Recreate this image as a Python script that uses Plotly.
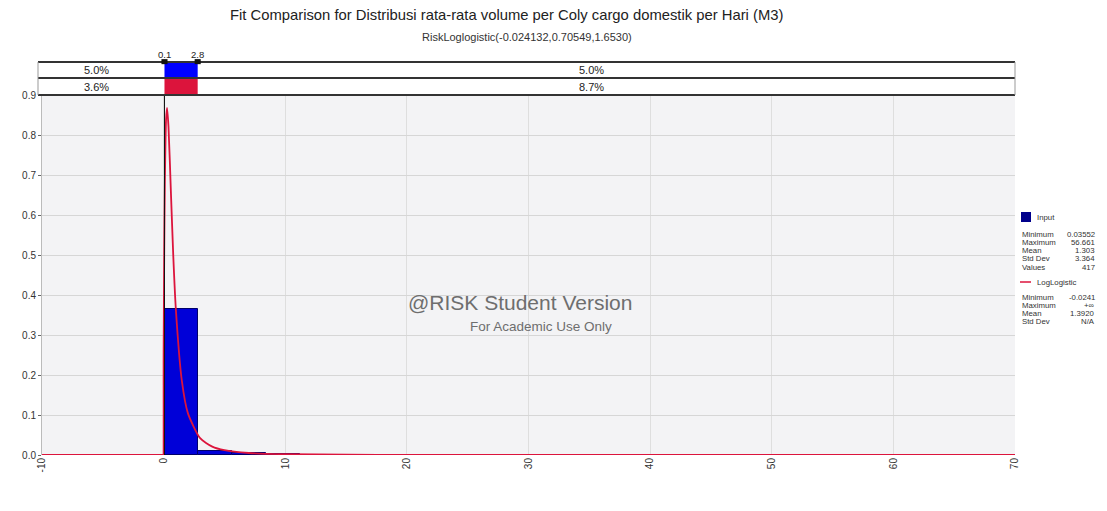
import plotly.graph_objects as go

# ---------------- data ----------------
hist_left = [0.035, 2.80, 5.60, 8.40, 11.20, 14.00, 16.80]
hist_right = [2.80, 5.60, 8.40, 11.20, 14.00, 16.80, 19.60]
hist_density = [0.365, 0.011, 0.005, 0.002, 0.001, 0.0006, 0.0003]

fit_x = [-10, -0.03, -0.024, 0.0, 0.05, 0.1, 0.2, 0.28, 0.4, 0.6, 0.8, 1.0, 1.5, 2.0,
         3.0, 4.0, 5.0, 7.0, 10.0, 15.0, 20.0, 30.0, 50.0, 70.0]
fit_y = [0, 0, 0, 0.257, 0.512, 0.676, 0.839, 0.868, 0.821, 0.656, 0.493, 0.367, 0.185, 0.104,
         0.042, 0.021, 0.012, 0.005, 0.002, 0.0007, 0.0003, 0.0001, 0.0, 0.0]

delim_left, delim_right = 0.07, 2.8
delim_labels = ["0.1", "2.8"]
input_pcts = ["5.0%", "5.0%"]
fit_pcts = ["3.6%", "8.7%"]

x_ticks = [-10, 0, 10, 20, 30, 40, 50, 60, 70]
y_ticks = [0.0, 0.1, 0.2, 0.3, 0.4, 0.5, 0.6, 0.7, 0.8, 0.9]

input_stats = [("Minimum", "0.03552"), ("Maximum", "56.661"), ("Mean", "1.303"),
               ("Std Dev", "3.364"), ("Values", "417")]
fit_stats = [("Minimum", "-0.0241"), ("Maximum", "+\u221e"), ("Mean", "1.3920"),
             ("Std Dev", "N/A")]

title = "Fit Comparison for Distribusi rata-rata volume per Coly cargo domestik per Hari (M3)"
subtitle = "RiskLoglogistic(-0.024132,0.70549,1.6530)"

# ---------------- layout geometry (page pixels; page body has an 8px margin) ----------------
OFF = 8
W, H = 1107 - 2 * OFF, 511 - 2 * OFF
P_LEFT, P_RIGHT, P_TOP, P_BOTTOM = 42, 1015, 95, 455
ML = P_LEFT - OFF
MT = P_TOP - OFF
MR = W - (P_RIGHT - OFF)
MB = H - (P_BOTTOM - OFF)
PW = P_RIGHT - P_LEFT
PH = P_BOTTOM - P_TOP


def px(x):
    return (x - P_LEFT) / PW


def py(y):
    return (P_BOTTOM - y) / PH


FONT = "Liberation Sans"
BLUE = "#0000d8"
RED = "#dc143c"

fig = go.Figure()

fig.add_trace(go.Bar(
    x=[(a + b) / 2 for a, b in zip(hist_left, hist_right)],
    y=hist_density,
    width=[b - a for a, b in zip(hist_left, hist_right)],
    marker=dict(color=BLUE, line=dict(color="#00006a", width=1)),
    name="Input", showlegend=False,
))

fig.add_trace(go.Scatter(
    x=fit_x, y=fit_y, mode="lines",
    line=dict(color=RED, width=1.8, shape="spline", smoothing=0.6),
    name="LogLogistic", showlegend=False,
))

shapes = []
shapes.append(dict(type="line", xref="x", yref="paper", x0=delim_left, x1=delim_left,
                   y0=0, y1=1, line=dict(color="#111", width=1)))
y_top, y_mid, y_bot = py(62), py(78), py(95)
shapes.append(dict(type="rect", xref="x", yref="paper", x0=delim_left, x1=delim_right,
                   y0=y_mid, y1=y_top, fillcolor="#0000ff", line=dict(width=0), layer="above"))
shapes.append(dict(type="rect", xref="x", yref="paper", x0=delim_left, x1=delim_right,
                   y0=y_bot, y1=y_mid, fillcolor=RED, line=dict(width=0), layer="above"))
for yy in (y_top, y_mid, y_bot):
    shapes.append(dict(type="line", xref="paper", yref="paper", x0=px(38), x1=1.0,
                       y0=yy, y1=yy, line=dict(color="#333", width=2)))
shapes.append(dict(type="line", xref="paper", yref="paper", x0=px(38), x1=px(38),
                   y0=y_bot, y1=y_top, line=dict(color="#999", width=1)))
shapes.append(dict(type="line", xref="paper", yref="paper", x0=1.0, x1=1.0,
                   y0=y_bot, y1=y_top, line=dict(color="#999", width=1)))
for xd in (delim_left, delim_right):
    shapes.append(dict(type="rect", xref="x", yref="paper", x0=xd - 0.25, x1=xd + 0.25,
                       y0=y_top - 0.006, y1=y_top + 0.008, fillcolor="#111", line=dict(width=0)))
shapes.append(dict(type="rect", xref="paper", yref="paper", x0=px(1021), x1=px(1031),
                   y0=py(222), y1=py(212), fillcolor="#00008b", line=dict(width=0)))
shapes.append(dict(type="line", xref="paper", yref="paper", x0=px(1020), x1=px(1031),
                   y0=py(282), y1=py(282), line=dict(color=RED, width=1.5)))

ann = []


def text(t, x, y, size, color="#222", anchor="center", xref="paper"):
    ann.append(dict(text=t, xref=xref, yref="paper", x=x, y=y, xanchor=anchor,
                    yanchor="middle", showarrow=False,
                    font=dict(family=FONT, size=size, color=color)))


text(title, px(506), py(15), 14.8, "#222")
text(subtitle, px(527), py(37), 11, "#333")
for xd, lab in zip((delim_left, delim_right), delim_labels):
    text(lab, xd, py(55), 9.5, "#222", xref="x")
for pcts, ycen in ((input_pcts, 70), (fit_pcts, 86.5)):
    text(pcts[0], px(96), py(ycen), 11, "#222")
    text(pcts[1], px(591), py(ycen), 11, "#222")
text("@RISK Student Version", px(520), py(302), 21, "#6e6e6e")
text("For Academic Use Only", px(541), py(326), 13.5, "#6e6e6e")

small = 7.8
text("Input", px(1035), py(217), small, "#333", anchor="left")
for i, (k, v) in enumerate(input_stats):
    yy = py(234 + 8.3 * i)
    text(k, px(1020), yy, small, "#333", anchor="left")
    text(v, px(1097), yy, small, "#333", anchor="right")
text("LogLogistic", px(1035), py(282), small, "#333", anchor="left")
for i, (k, v) in enumerate(fit_stats):
    yy = py(297 + 8.3 * i)
    text(k, px(1020), yy, small, "#333", anchor="left")
    text(v, px(1097), yy, small, "#333", anchor="right")

fig.update_layout(
    width=W, height=H,
    margin=dict(l=ML, r=MR, t=MT, b=MB, pad=0, autoexpand=False),
    paper_bgcolor="white",
    plot_bgcolor="#f3f3f5",
    shapes=shapes,
    annotations=ann,
    bargap=0,
    showlegend=False,
    font=dict(family=FONT, size=10, color="#333"),
    xaxis=dict(range=[-10, 70], tickmode="array", tickvals=x_ticks,
               ticktext=[str(t) for t in x_ticks], tickangle=-90, automargin=False,
               showgrid=True, gridcolor="#dedede", zeroline=False,
               showline=False, ticks="", tickfont=dict(size=10, color="#333")),
    yaxis=dict(range=[0, 0.9], tickmode="array", tickvals=y_ticks, automargin=False,
               ticktext=[f"{t:.1f}" for t in y_ticks],
               showgrid=True, gridcolor="#d6d6d6", zeroline=False,
               ticks="outside", ticklen=3, tickcolor="#666",
               showline=True, linecolor="#bbb", tickfont=dict(size=10, color="#333")),
)

fig.write_html("out.html")
